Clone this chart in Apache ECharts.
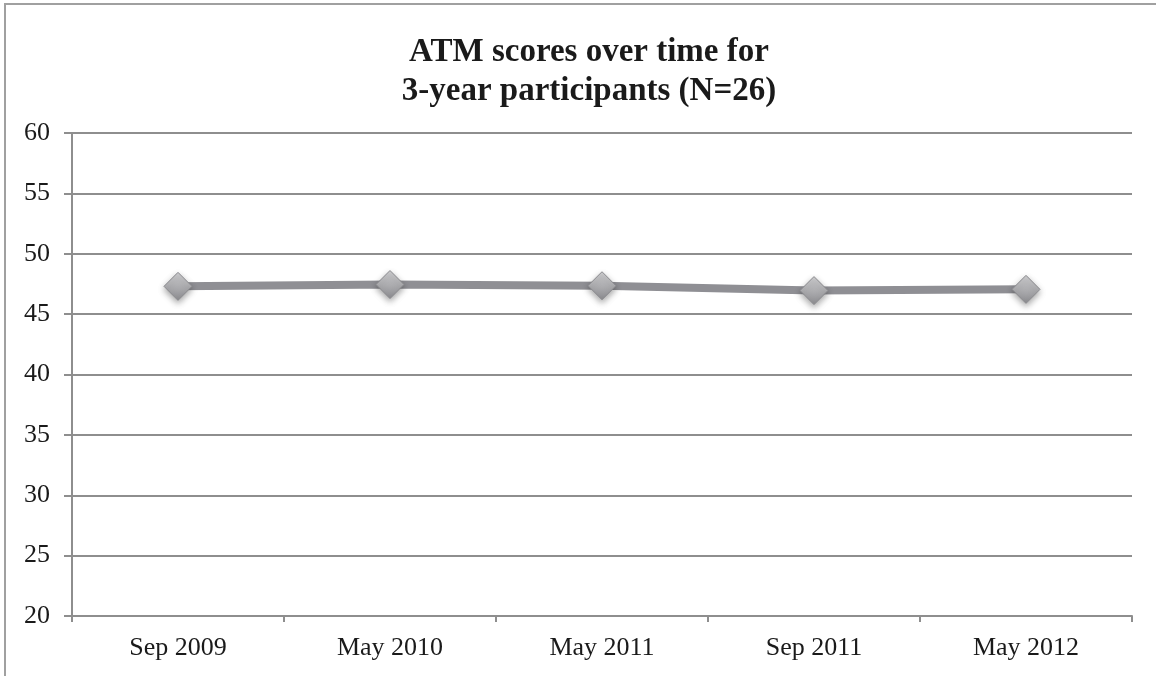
<!DOCTYPE html>
<html>
<head>
<meta charset="utf-8">
<script src="https://cdn.jsdelivr.net/npm/echarts@6/dist/echarts.min.js"></script>
<style>
  html, body { margin: 0; padding: 0; background: #fff; }
  #chart { width: 1156px; height: 676px; }
</style>
</head>
<body>
<div id="chart"></div>
<script>
const titleLines = ['ATM scores over time for', '3-year participants (N=26)']
const categories = ['Sep 2009', 'May 2010', 'May 2011', 'Sep 2011', 'May 2012']
const atmScores = [47.3, 47.45, 47.35, 46.95, 47.05]
const yMin = 20
const yMax = 60
const yStep = 5

const chart = echarts.init(document.getElementById('chart'))

const option = {
  backgroundColor: '#fff',
  animation: false,
  title: {
    text: titleLines.join('\n'),
    left: 584,
    textAlign: 'center',
    top: 28,
    textStyle: {
      fontFamily: 'Liberation Serif',
      fontWeight: 'bold',
      fontSize: 33,
      lineHeight: 39,
      color: '#1a1a1a'
    }
  },
  // outer frame (right/bottom sides fall off the picture)
  graphic: [
    {
      type: 'rect',
      shape: { x: 5, y: 4, width: 1200, height: 720 },
      style: { fill: 'none', stroke: '#a0a0a0', lineWidth: 2 },
      silent: true
    }
  ],
  grid: {
    left: 72,
    right: 24,
    top: 133,
    bottom: 60,
    containLabel: false
  },
  xAxis: {
    type: 'category',
    data: categories,
    boundaryGap: true,
    axisLine: { lineStyle: { color: '#8e8e8e', width: 2 } },
    axisTick: { show: true, length: 6, lineStyle: { color: '#8e8e8e', width: 2 } },
    axisLabel: {
      fontFamily: 'Liberation Serif',
      fontSize: 26,
      color: '#1a1a1a',
      margin: 19
    },
    splitLine: { show: false }
  },
  yAxis: {
    type: 'value',
    min: yMin,
    max: yMax,
    interval: yStep,
    axisLine: { show: true, lineStyle: { color: '#8e8e8e', width: 2 } },
    axisTick: { show: true, length: 8, lineStyle: { color: '#8e8e8e', width: 2 } },
    axisLabel: {
      fontFamily: 'Liberation Serif',
      fontSize: 26,
      color: '#1a1a1a',
      margin: 22
    },
    splitLine: { lineStyle: { color: '#8e8e8e', width: 2 } }
  },
  series: [
    {
      type: 'line',
      data: atmScores,
      symbol: 'diamond',
      symbolSize: 28,
      lineStyle: { color: '#8f8f94', width: 8 },
      itemStyle: {
        color: new echarts.graphic.LinearGradient(0, 0, 0, 1, [
          { offset: 0, color: '#d0d0d2' },
          { offset: 1, color: '#8c8c90' }
        ]),
        borderColor: '#8a8a8e',
        borderWidth: 1,
        shadowColor: 'rgba(0,0,0,0.35)',
        shadowBlur: 6,
        shadowOffsetY: 3
      },
      z: 3
    }
  ]
}

chart.setOption(option)
</script>
</body>
</html>
